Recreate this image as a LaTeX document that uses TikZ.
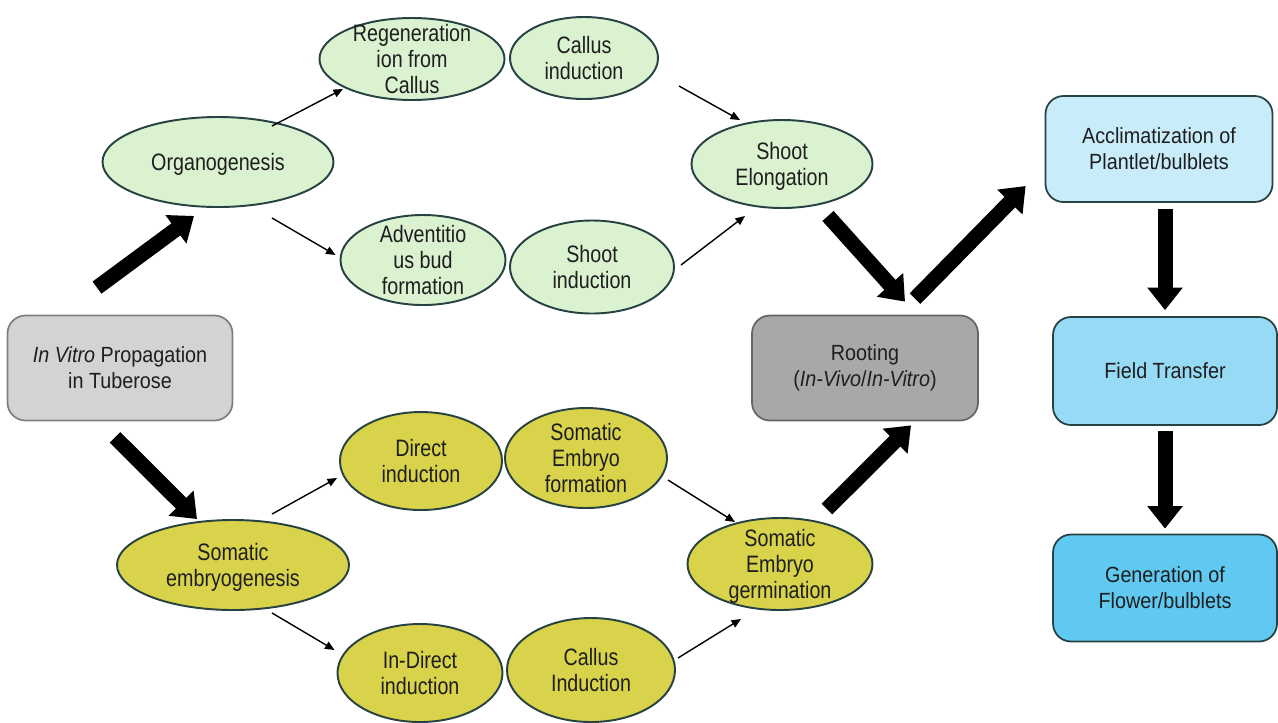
\documentclass[tikz,border=0pt]{standalone}
\usepackage{fontspec}
\setmainfont[FakeStretch=0.9]{Liberation Sans}
\newfontfamily\narrowsf[FakeStretch=0.83]{Liberation Sans}
\usetikzlibrary{shapes,arrows.meta,positioning}
\definecolor{tubgreen}{RGB}{218,242,208}
\definecolor{tubyellow}{RGB}{216,211,74}
\definecolor{tubedge}{RGB}{38,66,66}
\definecolor{tubgray}{RGB}{211,211,211}
\definecolor{tubdark}{RGB}{168,168,168}
\definecolor{tubblueA}{RGB}{201,236,250}
\definecolor{tubblueB}{RGB}{151,218,245}
\definecolor{tubblueC}{RGB}{96,201,241}
\definecolor{tubtext}{RGB}{30,30,30}
\newcommand{\elltext}[1]{\raisebox{-5.5pt}[0pt][0pt]{\begin{tabular}{@{}c@{}}#1\end{tabular}}}

\begin{document}
\begin{tikzpicture}[x=0.2mm, y=-0.2mm,
    stage/.style={ellipse, draw=tubedge, line width=1.1pt, inner sep=0pt, text=tubtext, font=\narrowsf\fontsize{13.5}{14.8}\selectfont},
    organo/.style={stage, fill=tubgreen},
    embryo/.style={stage, fill=tubyellow},
    pbox/.style={rectangle, rounded corners=0.36cm, line width=1pt, minimum width=4.5cm, minimum height=2.1cm, align=center, text=tubtext, font=\fontsize{12.5}{14.8}\selectfont},
    thin/.style={-{Triangle[length=1.9mm,width=1.6mm]}, line width=0.8pt},
    fat/.style={-{Triangle[length=0.45cm,width=0.68cm]}, line width=0.3cm}]
    \useasboundingbox (0,0) rectangle (1278,722);

    % Boxes
    \node[pbox, draw=gray, fill=tubgray] (start) at (120,368) {\textit{In Vitro} Propagation\\in Tuberose};
    \node[pbox, draw=black!60, fill=tubdark, minimum width=4.52cm] (root) at (865,368) {Rooting\\(\textit{In-Vivo}/\textit{In-Vitro})};
    \node[pbox, draw=tubedge, fill=tubblueA, minimum width=4.54cm, minimum height=2.12cm] (accl) at (1159,149) {Acclimatization of\\Plantlet/bulblets};
    \node[pbox, draw=tubedge, fill=tubblueB, minimum width=4.48cm, minimum height=2.16cm] (field) at (1165,371) {Field Transfer};
    \node[pbox, draw=tubedge, fill=tubblueC, minimum width=4.48cm, minimum height=2.14cm] (gen) at (1165,588) {Generation of\\Flower/bulblets};

    % Organogenesis path
    \node[organo, minimum width=4.62cm, minimum height=1.8cm] (org) at (218,162) {\elltext{Organogenesis}};
    \node[organo, minimum width=3.7cm, minimum height=1.64cm] (regen) at (412,59) {\elltext{Regeneration\\ion from\\Callus}};
    \node[organo, minimum width=2.96cm, minimum height=1.64cm] (cal) at (584,58) {\elltext{Callus\\induction}};
    \node[organo, minimum width=3.3cm, minimum height=1.8cm] (adv) at (423,260) {\elltext{Adventitio\\us bud\\formation}};
    \node[organo, minimum width=3.28cm, minimum height=1.86cm] (shoot) at (592,267) {\elltext{Shoot\\induction}};
    \node[organo, minimum width=3.62cm, minimum height=1.76cm] (elong) at (782,164) {\elltext{Shoot\\Elongation}};

    % Somatic embryogenesis path
    \node[embryo, minimum width=4.64cm, minimum height=1.8cm] (som) at (233,565) {\elltext{Somatic\\embryogenesis}};
    \node[embryo, minimum width=3.24cm, minimum height=1.96cm] (direct) at (421,461) {\elltext{Direct\\induction}};
    \node[embryo, minimum width=3.24cm, minimum height=2cm] (semb) at (586,458) {\elltext{Somatic\\Embryo\\formation}};
    \node[embryo, minimum width=3.3cm, minimum height=1.96cm] (indir) at (420,673) {\elltext{In-Direct\\induction}};
    \node[embryo, minimum width=3.36cm, minimum height=2.08cm] (cind) at (591,670) {\elltext{Callus\\Induction}};
    \node[embryo, minimum width=3.7cm, minimum height=1.84cm] (germ) at (780,564) {\elltext{Somatic\\Embryo\\germination}};

    % Thin arrows
    \draw[thin] ([shift={(54,10)}]org.north) -- ([shift={(-69,-12)}]regen.south);
    \draw[thin] ([shift={(54,10)}]org.south) -- ([shift={(-4,-5)}]adv.west);
    \draw[thin] ([shift={(20,28)}]cal.east) -- ([shift={(-42,1)}]elong.north);
    \draw[thin] ([shift={(6,-2)}]shoot.east) -- ([shift={(-37,7)}]elong.south);
    \draw[thin] ([shift={(39,-5)}]som.north) -- ([shift={(-2,17)}]direct.west);
    \draw[thin] ([shift={(39,2)}]som.south) -- ([shift={(-2,-23)}]indir.west);
    \draw[thin] ([shift={(0,22)}]semb.east) -- ([shift={(-45,5)}]germ.north);
    \draw[thin] ([shift={(2,-12)}]cind.east) -- ([shift={(-39,8)}]germ.south);

    % Fat arrows
    \draw[fat] ([shift={(-23,-27)}]start.north) -- ([shift={(-24,8)}]org.south);
    \draw[fat] ([shift={(-5,16)}]start.south) -- ([shift={(-36,0)}]som.north);
    \draw[fat] ([shift={(46,7)}]elong.south) -- ([shift={(40,-13)}]root.north);
    \draw[fat] ([shift={(50,-16)}]root.north) -- ([shift={(-19,37)}]accl.west);
    \draw[fat] ([shift={(47,-8)}]germ.north) -- ([shift={(46,4)}]root.south);
    \draw[fat] ([shift={(6,6)}]accl.south) -- ([shift={(0,-6)}]field.north);
    \draw[fat] ([shift={(0,5)}]field.south) -- ([shift={(0,-5)}]gen.north);
\end{tikzpicture}
\end{document}
